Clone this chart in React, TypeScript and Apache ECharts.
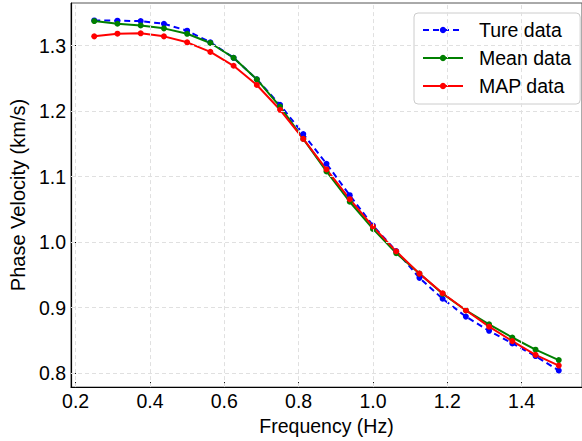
import React, { useEffect, useRef } from "react";
import * as echarts from "echarts";

const freq = [0.25, 0.3125, 0.375, 0.4375, 0.5, 0.5625, 0.625, 0.6875, 0.75, 0.8125, 0.875, 0.9375, 1.0, 1.0625, 1.125, 1.1875, 1.25, 1.3125, 1.375, 1.4375, 1.5];
const trueData = [1.3384, 1.338, 1.3374, 1.3333, 1.3227, 1.305, 1.2814, 1.2485, 1.2095, 1.165, 1.1197, 1.0717, 1.0253, 0.9865, 0.9455, 0.9136, 0.8864, 0.8647, 0.8455, 0.8262, 0.804];
const meanData = [1.3374, 1.3333, 1.3308, 1.3263, 1.318, 1.304, 1.2814, 1.2485, 1.207, 1.1576, 1.108, 1.0617, 1.0202, 0.9833, 0.952, 0.9212, 0.896, 0.8745, 0.8545, 0.8359, 0.82];
const mapData = [1.3141, 1.3182, 1.3187, 1.3141, 1.305, 1.2904, 1.2692, 1.2399, 1.202, 1.1576, 1.111, 1.0656, 1.0238, 0.986, 0.952, 0.922, 0.896, 0.871, 0.849, 0.828, 0.8117];
const xTicks = [0.2, 0.4, 0.6, 0.8, 1.0, 1.2, 1.4];
const yTicks = [0.8, 0.9, 1.0, 1.1, 1.2, 1.3];
const seriesNames = ["Ture data", "Mean data", "MAP data"];

const FONT = "'Liberation Sans', Arial, Helvetica, sans-serif";

export default function App() {
  const ref = useRef<HTMLDivElement>(null);
  useEffect(() => {
    if (!ref.current) return;
    const chart = echarts.init(ref.current, undefined, { renderer: "svg" });
    const pair = (ys: number[]) => freq.map((x, i) => [x, ys[i]]);
    const mk = (name: string, ys: number[], color: string, dashed: boolean) => ({
      name,
      type: "line",
      data: pair(ys),
      symbol: "circle",
      symbolSize: 6,
      showSymbol: true,
      itemStyle: { color },
      lineStyle: { color, width: 2, type: dashed ? [6, 4] : "solid" },
      z: 3,
    });
    chart.setOption({
      animation: false,
      textStyle: { fontFamily: FONT },
      grid: {
        left: 68,
        top: 3,
        width: 520,
        height: 388,
        show: true,
        borderColor: "#555",
        borderWidth: 1,
        backgroundColor: "transparent",
      },
      legend: {
        data: seriesNames,
        orient: "vertical",
        left: 414,
        top: 13,
        itemWidth: 40,
        itemHeight: 8,
        itemGap: 8,
        padding: [7, 9, 8, 8],
        backgroundColor: "rgba(255,255,255,0.9)",
        borderColor: "#cccccc",
        borderWidth: 1,
        borderRadius: 4,
        textStyle: { fontFamily: FONT, fontSize: 19.5, lineHeight: 20, color: "#000", padding: [0, 0, 0, 11] },
      },
      xAxis: {
        type: "value",
        min: 0.1875,
        max: 1.5625,
        name: "Frequency (Hz)",
        nameLocation: "middle",
        nameGap: 22,
        nameTextStyle: { fontFamily: FONT, fontSize: 19.5, color: "#000", verticalAlign: "top" },
        axisLine: { show: true, onZero: false, lineStyle: { color: "#000", width: 1.2 } },
        axisTick: { show: true, inside: true, length: 5, customValues: xTicks, lineStyle: { color: "#000" } },
        axisLabel: {
          customValues: xTicks,
          formatter: (v: number) => v.toFixed(1),
          fontFamily: FONT,
          fontSize: 19.5,
          color: "#000",
          margin: 4,
        },
        splitLine: { show: false },
      },
      yAxis: {
        type: "value",
        min: 0.7788,
        max: 1.365,
        name: "Phase Velocity (km/s)",
        nameLocation: "middle",
        nameGap: 31,
        nameTextStyle: { fontFamily: FONT, fontSize: 20, color: "#000" },
        axisLine: { show: true, onZero: false, lineStyle: { color: "#000", width: 1.2 } },
        axisTick: { show: true, inside: true, length: 5, customValues: yTicks, lineStyle: { color: "#000" } },
        axisLabel: {
          customValues: yTicks,
          formatter: (v: number) => v.toFixed(1),
          fontFamily: FONT,
          fontSize: 19.5,
          color: "#000",
          margin: 5,
        },
        splitLine: { show: false },
      },
      series: [
        {
          name: "gridlines",
          type: "line",
          data: [],
          silent: true,
          z: 1,
          markLine: {
            silent: true,
            symbol: "none",
            label: { show: false },
            lineStyle: { color: "#e0e0e0", width: 1, type: [4, 3] },
            emphasis: { disabled: true },
            data: [...xTicks.map((v) => ({ xAxis: v })), ...yTicks.map((v) => ({ yAxis: v }))],
          },
        },
        mk(seriesNames[0], trueData, "#0000ff", true),
        mk(seriesNames[1], meanData, "#008000", false),
        mk(seriesNames[2], mapData, "#ff0000", false),
      ],
    });
    return () => chart.dispose();
  }, []);
  return <div ref={ref} style={{ width: 582, height: 441, position: "absolute", left: 0, top: 0 }} />;
}
